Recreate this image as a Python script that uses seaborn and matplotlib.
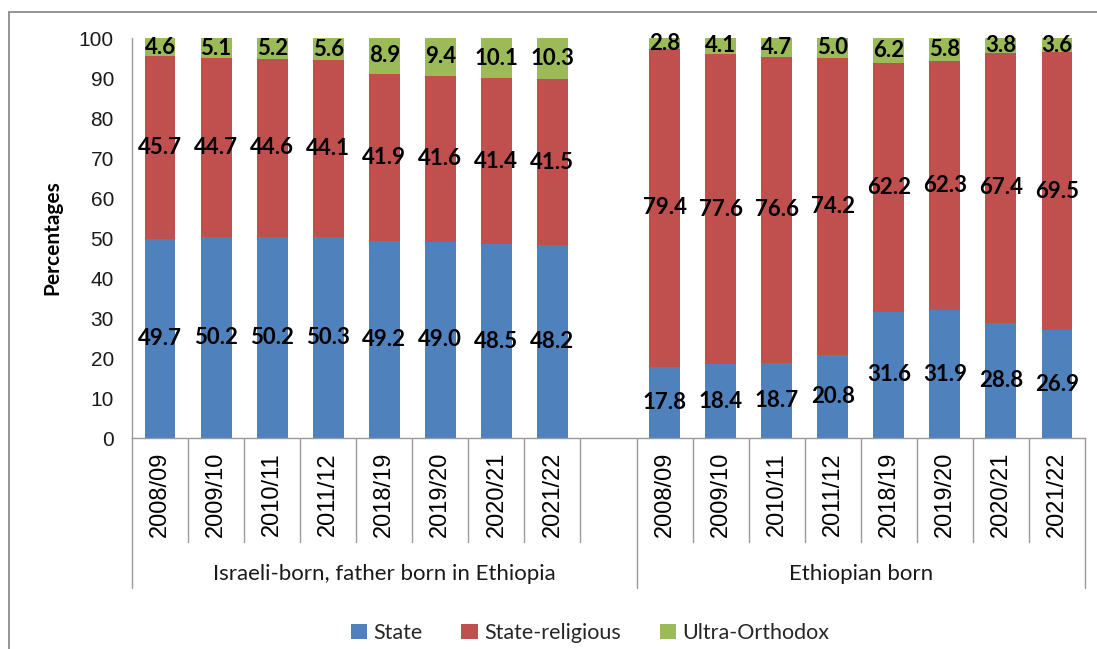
import numpy as np
import pandas as pd
import seaborn as sns
import matplotlib
matplotlib.use("Agg")
import matplotlib.pyplot as plt
from matplotlib.patches import Patch, Rectangle
from matplotlib.transforms import blended_transform_factory

# School-year categories and the two population groups
years = ["2008/09", "2009/10", "2010/11", "2011/12", "2018/19", "2019/20", "2020/21", "2021/22"]
groups = ["Israeli-born, father born in Ethiopia", "Ethiopian born"]
series = ["State", "State-religious", "Ultra-Orthodox"]

# Israeli-born, father born in Ethiopia (%)
state_isr = [49.7, 50.2, 50.2, 50.3, 49.2, 49.0, 48.5, 48.2]
religious_isr = [45.7, 44.7, 44.6, 44.1, 41.9, 41.6, 41.4, 41.5]
ultra_isr = [4.6, 5.1, 5.2, 5.6, 8.9, 9.4, 10.1, 10.3]

# Ethiopian born (%)
state_eth = [17.8, 18.4, 18.7, 20.8, 31.6, 31.9, 28.8, 26.9]
religious_eth = [79.4, 77.6, 76.6, 74.2, 62.2, 62.3, 67.4, 69.5]
ultra_eth = [2.8, 4.1, 4.7, 5.0, 6.2, 5.8, 3.8, 3.6]

colors = {"State": "#4F81BD", "State-religious": "#C0504D", "Ultra-Orthodox": "#9BBB59"}

# Long-form table; each bar gets a unique key, with one empty slot between groups
rows = []
for g, (s, r, u) in zip(groups, [(state_isr, religious_isr, ultra_isr),
                                 (state_eth, religious_eth, ultra_eth)]):
    for i, y in enumerate(years):
        rows.append({"key": f"{g}|{y}", "group": g, "year": y,
                     "State": s[i], "State-religious": r[i], "Ultra-Orthodox": u[i]})
df = pd.DataFrame(rows)
df["cum_state"] = df["State"]
df["cum_religious"] = df["State"] + df["State-religious"]
df["cum_ultra"] = df["cum_religious"] + df["Ultra-Orthodox"]

gap_key = "__gap__"
order = [f"{groups[0]}|{y}" for y in years] + [gap_key] + [f"{groups[1]}|{y}" for y in years]
pos = {k: i for i, k in enumerate(order)}

sns.set_theme(style="white")
plt.rcParams["font.family"] = ["Lato", "DejaVu Sans"]

W, H = 1097, 649
fig = plt.figure(figsize=(W / 100, H / 100), dpi=100)
ax = fig.add_axes([132 / W, (H - 438) / H, (1085 - 132) / W, 400 / H])

# Stacked bars: draw the cumulative layers from the top down
bw = 0.55
for col, name in [("cum_ultra", "Ultra-Orthodox"), ("cum_religious", "State-religious"),
                  ("cum_state", "State")]:
    sns.barplot(data=df, x="key", y=col, order=order, color=colors[name],
                saturation=1, width=bw, errorbar=None, ax=ax, linewidth=0)

# Value labels at segment centres
lab_kw = dict(ha="center", va="center", fontsize=16, fontweight="bold",
              color="black", family=["Lato", "DejaVu Sans"])
for _, row in df.iterrows():
    x = pos[row["key"]]
    ax.text(x, row["State"] / 2, f"{row['State']:.1f}", **lab_kw)
    ax.text(x, row["State"] + row["State-religious"] / 2, f"{row['State-religious']:.1f}", **lab_kw)
    ax.text(x, row["cum_religious"] + row["Ultra-Orthodox"] / 2, f"{row['Ultra-Orthodox']:.1f}", **lab_kw)

# Axes styling
grey = "#9a9a9a"
ax.set_xlim(-0.5, len(order) - 0.5)
ax.set_ylim(0, 100)
ax.set_yticks(np.arange(0, 101, 10))
ax.set_xticks([])
ax.set_xlabel("")
ax.set_ylabel("")
for side in ["top", "right"]:
    ax.spines[side].set_visible(False)
for side in ["left", "bottom"]:
    ax.spines[side].set_color(grey)
    ax.spines[side].set_linewidth(1.0)
ax.tick_params(axis="y", which="major", direction="out", length=4, width=1,
               color=grey, pad=9, labelsize=15, labelcolor="#1a1a1a")
for t in ax.get_yticklabels():
    t.set_family(["Liberation Sans", "DejaVu Sans"])

# Multi-level category axis: year labels, separators and group labels
tr = blended_transform_factory(ax.transData, ax.transAxes)
for k in order:
    if k == gap_key:
        continue
    ax.text(pos[k], -0.035, k.split("|")[1], transform=tr, rotation=90,
            ha="center", va="top", fontsize=17, color="black",
            family=["Liberation Sans", "DejaVu Sans"])

n = len(order)
long_b = [-0.5, pos[gap_key] + 0.5, n - 0.5]
for b in np.arange(-0.5, n, 1.0):
    depth = -0.375 if any(abs(b - lb) < 1e-6 for lb in long_b) else -0.26
    ax.plot([b, b], [0, depth], transform=tr, color=grey, lw=1.0, clip_on=False)

ax.text((long_b[0] + long_b[1]) / 2, -0.34, groups[0], transform=tr, ha="center",
        va="center", fontsize=16, color="#1a1a1a")
ax.text((long_b[1] + long_b[2]) / 2, -0.34, groups[1], transform=tr, ha="center",
        va="center", fontsize=16, color="#1a1a1a")

# Axis title
fig.text(52 / W, 1 - 238 / H, "Percentages", rotation=90, ha="center", va="center",
         fontsize=15, fontweight="bold", color="black")

# Legend
handles = [Patch(facecolor=colors[s], edgecolor="none", label=s) for s in series]
fig.legend(handles=handles, loc="center", bbox_to_anchor=(590 / W, 1 - 633 / H), ncol=3,
           frameon=False, fontsize=15.5, handlelength=0.75, handleheight=0.75,
           handletextpad=0.3, columnspacing=1.8)

# Chart-area frame
fig.patches.append(Rectangle((9 / W, -0.05), 1.2, (H - 12) / H + 0.05,
                             transform=fig.transFigure, fill=False,
                             edgecolor="#8c8c8c", lw=1.3))

fig.savefig("out.png", dpi=100)
